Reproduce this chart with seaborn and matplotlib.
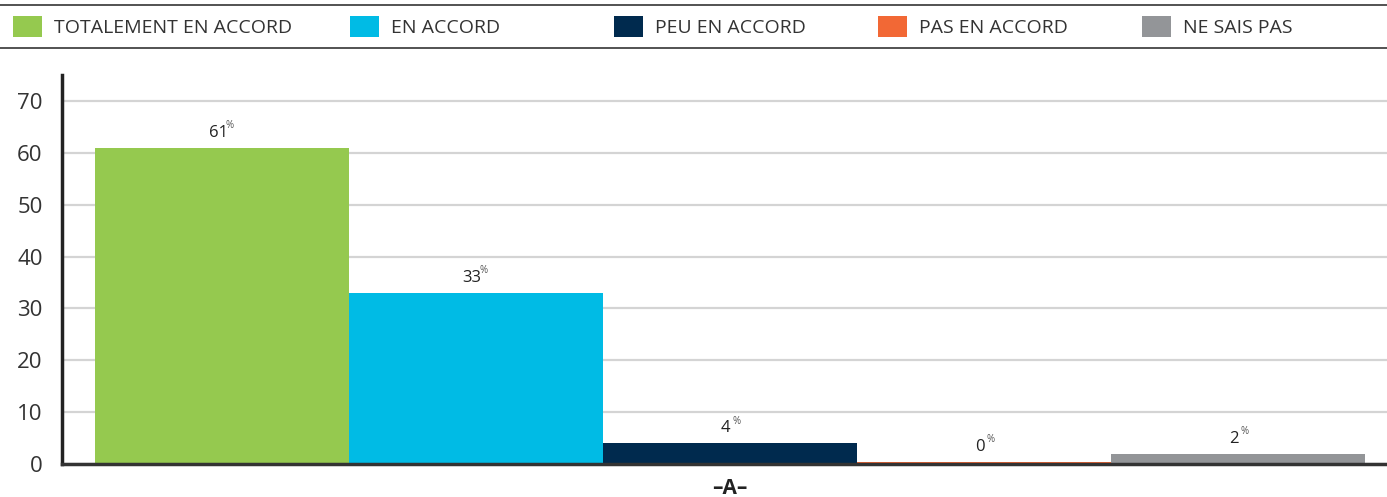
import pandas as pd
import matplotlib.pyplot as plt
import seaborn as sns
from matplotlib.patches import Rectangle
from matplotlib.lines import Line2D

# === Data ===
groups = ["A"]
answers = ["TOTALEMENT EN ACCORD", "EN ACCORD", "PEU EN ACCORD", "PAS EN ACCORD", "NE SAIS PAS"]
values = [61, 33, 4, 0.4, 2]
colors = ["#95C94F", "#00BBE5", "#002A4E", "#F26835", "#939598"]
yticks = [0, 10, 20, 30, 40, 50, 60, 70]

df = pd.DataFrame({"group": groups * len(answers), "answer": answers, "value": values})

# === Style ===
sns.set_theme(style="white")
plt.rcParams['font.family'] = ['Open Sans', 'DejaVu Sans']

W, H = 1387, 497
fig = plt.figure(figsize=(W / 100, H / 100), dpi=100)
ax = fig.add_axes([62 / W, 33 / H, 1 - 62 / W, (464 - 75) / H])

sns.barplot(data=df, x="group", y="value", hue="answer", hue_order=answers,
            palette=colors, saturation=1, width=0.8, linewidth=0,
            legend=False, ax=ax)

ax.set_ylim(0, 75)
ax.set_xlim(-0.421, 0.414)
ax.set_yticks(yticks)
ax.yaxis.grid(True, color="#d4d4d4", linewidth=1.6)
ax.set_axisbelow(True)
ax.tick_params(axis="y", labelsize=16, labelcolor="#333333", length=0, pad=14)
ax.tick_params(axis="x", length=0, pad=10)
ax.set_xticks(range(len(groups)))
ax.set_xticklabels([f"\u2013{g}\u2013" for g in groups], fontsize=15, fontweight="bold",
                   color="#222222")
ax.set_xlabel("")
ax.set_ylabel("")
for side in ["top", "right"]:
    ax.spines[side].set_visible(False)
ax.spines["left"].set_color("#222222")
ax.spines["left"].set_linewidth(2.5)
ax.spines["bottom"].set_color("#333333")
ax.spines["bottom"].set_linewidth(2.5)

# value labels with small superscript %
for cont in ax.containers:
    for bar in cont:
        h = bar.get_height()
        cx = bar.get_x() + bar.get_width() / 2
        ax.annotate(f"{round(h)}", (cx, h), xytext=(-3, 5), textcoords="offset points",
                    ha="center", va="bottom", fontsize=12, color="#222222")
        ax.annotate("%", (cx, h), xytext=(5, 12), textcoords="offset points",
                    ha="center", va="bottom", fontsize=7, color="#555555")

# === Legend band ===
for yy in [5, 48]:
    fig.add_artist(Line2D([0, 1], [1 - yy / H, 1 - yy / H], transform=fig.transFigure,
                          color="#444444", linewidth=1.3))
legend_x = [13, 350, 614, 878, 1142]
for x0, name, col in zip(legend_x, answers, colors):
    fig.add_artist(Rectangle((x0 / W, 1 - 37 / H), 29 / W, 21 / H,
                             transform=fig.transFigure, color=col, linewidth=0))
    fig.text((x0 + 41) / W, 1 - 28 / H, name, fontsize=14, color="#333333",
             va="center", ha="left")

fig.savefig("out.png", dpi=100)
